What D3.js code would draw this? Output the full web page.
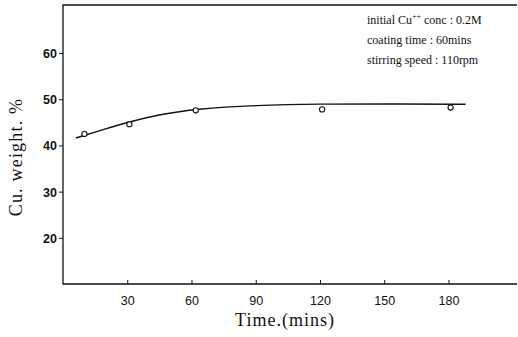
<!DOCTYPE html>
<html>
<head>
<meta charset="utf-8">
<script src="https://cdn.jsdelivr.net/npm/d3@7"></script>
<style>
  body { margin: 0; background: #fff; }
  svg { display: block; }
</style>
</head>
<body>
<div id="plotarea"></div>
<script>
// measured points (time in mins, Cu weight %)
var timeVals = [10, 31, 62, 121, 181];
var cuVals = [42.5, 44.6, 47.6, 47.8, 48.2];

// hand drawn fitted curve
var curveTime = [6, 20, 31, 45, 62, 90, 120, 150, 188];
var curveCu = [41.6, 43.6, 45.1, 46.7, 47.9, 48.7, 49.0, 49.0, 48.9];

var xTicks = [30, 60, 90, 120, 150, 180];
var yTicks = [20, 30, 40, 50, 60];

var notes = ["coating time : 60mins", "stirring speed : 110rpm"];

var W = 518, H = 337;
var margin = {top: 5, right: 1, bottom: 53, left: 63};

var svg = d3.select("#plotarea")
  .append("svg")
    .attr("width", W)
    .attr("height", H);

var x = d3.scaleLinear()
  .domain([0, 212])
  .range([margin.left, W - margin.right]);

var y = d3.scaleLinear()
  .domain([10, 70.4])
  .range([H - margin.bottom, margin.top]);

// frame: left, bottom and top lines (no right side)
svg.append("path")
  .attr("d", "M" + (W - margin.right) + "," + y(70.4) + "H" + x(0) + "V" + y(10) + "H" + (W - margin.right))
  .attr("fill", "none")
  .attr("stroke", "#111")
  .attr("stroke-width", 1.3);

// X axis, ticks point up into the plot
var xAxis = svg.append("g")
  .attr("transform", "translate(0," + y(10) + ")")
  .call(d3.axisBottom(x).tickValues(xTicks).tickSizeInner(-4).tickSizeOuter(0).tickPadding(12));
xAxis.select(".domain").remove();
xAxis.selectAll("line").attr("stroke", "#111");
xAxis.selectAll("text")
  .attr("fill", "#111")
  .style("font-family", "'Liberation Sans', Arial, sans-serif")
  .style("font-size", "12.5px");

// Y axis, ticks point left
var yAxis = svg.append("g")
  .attr("transform", "translate(" + x(0) + ",0)")
  .call(d3.axisLeft(y).tickValues(yTicks).tickSizeInner(4).tickSizeOuter(0).tickPadding(2));
yAxis.select(".domain").remove();
yAxis.selectAll("line").attr("stroke", "#111");
yAxis.selectAll("text")
  .attr("fill", "#111")
  .attr("dy", "0.36em")
  .style("font-family", "'Liberation Sans', Arial, sans-serif")
  .style("font-weight", "bold")
  .style("font-size", "12.5px");

// axis titles
svg.append("text")
  .attr("x", 285)
  .attr("y", 326)
  .attr("text-anchor", "middle")
  .style("font-family", "'Liberation Serif', serif")
  .style("font-size", "18px")
  .style("letter-spacing", "1px")
  .attr("fill", "#111")
  .text("Time.(mins)");

svg.append("text")
  .attr("transform", "translate(22,157) rotate(-90)")
  .attr("text-anchor", "middle")
  .style("font-family", "'Liberation Serif', serif")
  .style("font-size", "18px")
  .style("letter-spacing", "1.2px")
  .attr("fill", "#111")
  .text("Cu. weight. %");

// fitted curve
var curveData = curveTime.map(function(t, i) { return {t: t, v: curveCu[i]}; });
var line = d3.line()
  .x(function(d) { return x(d.t); })
  .y(function(d) { return y(d.v); })
  .curve(d3.curveBasis);

svg.append("path")
  .datum(curveData)
  .attr("d", line)
  .attr("fill", "none")
  .attr("stroke", "#111")
  .attr("stroke-width", 1.4);

// open circles
var pts = timeVals.map(function(t, i) { return {t: t, v: cuVals[i]}; });
svg.append("g")
  .selectAll("circle")
  .data(pts)
  .enter()
  .append("circle")
    .attr("cx", function(d) { return x(d.t); })
    .attr("cy", function(d) { return y(d.v); })
    .attr("r", 2.6)
    .attr("fill", "#fff")
    .attr("stroke", "#111")
    .attr("stroke-width", 1.1);

// annotation block
var ann = svg.append("g")
  .style("font-family", "'Liberation Serif', serif")
  .style("font-size", "12px")
  .attr("fill", "#111");

var t1 = ann.append("text").attr("x", 367).attr("y", 24);
t1.append("tspan").text("initial Cu");
t1.append("tspan").attr("dy", -5).style("font-size", "8px").text("++");
t1.append("tspan").attr("dy", 5).text(" conc : 0.2M");

ann.selectAll(".note")
  .data(notes)
  .enter()
  .append("text")
    .attr("class", "note")
    .attr("x", 367)
    .attr("y", function(d, i) { return 44 + i * 20; })
    .text(function(d) { return d; });
</script>
</body>
</html>
